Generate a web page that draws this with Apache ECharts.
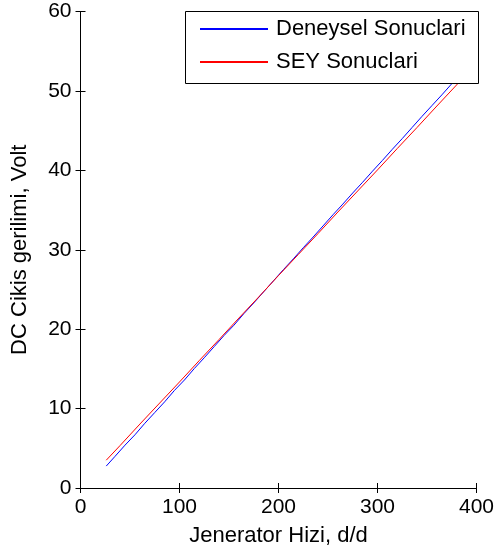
<!DOCTYPE html>
<html>
<head>
<meta charset="utf-8">
<script src="https://cdn.jsdelivr.net/npm/echarts@6/dist/echarts.min.js"></script>
<style>
html,body{margin:0;padding:0;background:#fff;}
#chart{width:497px;height:553px;}
</style>
</head>
<body>
<div id="chart"></div>
<script>
var xTicks = [0, 100, 200, 300, 400];
var yTicks = [0, 10, 20, 30, 40, 50, 60];
var seriesNames = ['Deneysel Sonuclari', 'SEY Sonuclari'];

var deneyselX = [26, 35, 45, 55, 65, 75, 85, 95, 105, 115, 125, 135, 145, 155, 165, 175, 185, 195, 205, 215, 225, 235, 245, 255, 265, 275, 285, 295, 305, 315, 325, 335, 345, 355, 365, 375];
var deneyselY = [2.76, 4.0, 5.4, 6.7, 8.15, 9.5, 10.85, 12.3, 13.6, 15.05, 16.4, 17.8, 19.2, 20.5, 21.95, 23.3, 24.7, 26.1, 27.5, 28.85, 30.25, 31.6, 33.0, 34.4, 35.75, 37.15, 38.5, 39.9, 41.25, 42.65, 44.0, 45.4, 46.8, 48.15, 49.5, 50.9];

var seyX = [26, 40, 60, 80, 100, 120, 140, 160, 180, 200, 220, 240, 260, 280, 300, 320, 340, 360, 381];
var seyY = [3.5, 5.35, 8.05, 10.7, 13.35, 16.05, 18.7, 21.4, 24.05, 26.75, 29.4, 32.05, 34.75, 37.4, 40.05, 42.75, 45.4, 48.1, 50.9];

function pairs(xs, ys) { return xs.map(function (x, i) { return [x, ys[i]]; }); }

var FONT = 'Liberation Sans, Arial, sans-serif';
var chart = echarts.init(document.getElementById('chart'), null, {renderer: 'canvas'});
var axisLine = {show: true, lineStyle: {color: '#000', width: 1}};
var tick = {show: true, inside: true, length: 5, lineStyle: {color: '#000', width: 1}};

chart.setOption({
  animation: false,
  backgroundColor: '#fff',
  grid: {left: 80.5, right: 18.5, top: 11.5, bottom: 65, containLabel: false},
  xAxis: [{
    type: 'value', min: xTicks[0], max: xTicks[xTicks.length - 1], interval: 100,
    position: 'bottom',
    axisLine: axisLine, axisTick: tick, splitLine: {show: false},
    axisLabel: {fontSize: 21, color: '#000', fontFamily: FONT, margin: 9},
    name: 'Jenerator Hizi, d/d', nameLocation: 'middle', nameGap: 37,
    nameTextStyle: {fontSize: 22, color: '#000', fontFamily: FONT}
  }, {
    type: 'value', min: xTicks[0], max: xTicks[xTicks.length - 1], interval: 100,
    position: 'top',
    axisLine: axisLine, axisTick: tick, splitLine: {show: false},
    axisLabel: {show: false}
  }],
  yAxis: [{
    type: 'value', min: yTicks[0], max: yTicks[yTicks.length - 1], interval: 10,
    position: 'left',
    axisLine: axisLine, axisTick: tick, splitLine: {show: false},
    axisLabel: {fontSize: 21, color: '#000', fontFamily: FONT, margin: 9},
    name: 'DC Cikis gerilimi, Volt', nameLocation: 'middle', nameGap: 50,
    nameTextStyle: {fontSize: 22, color: '#000', fontFamily: FONT}
  }, {
    type: 'value', min: yTicks[0], max: yTicks[yTicks.length - 1], interval: 10,
    position: 'right',
    axisLine: axisLine, axisTick: tick, splitLine: {show: false},
    axisLabel: {show: false}
  }],
  legend: {
    data: seriesNames,
    orient: 'vertical',
    left: 199, top: 18, padding: 0,
    itemWidth: 68, itemHeight: 22, itemGap: 11,
    itemStyle: {opacity: 0},
    z: 10,
    textStyle: {fontSize: 22, color: '#000', fontFamily: FONT, padding: [0, 0, 0, 3]}
  },
  graphic: [{
    type: 'rect', z: 3,
    shape: {x: 185.5, y: 11.5, width: 293, height: 72},
    style: {fill: '#fff', stroke: '#000', lineWidth: 1}
  }],
  series: [{
    name: seriesNames[0], type: 'line', data: pairs(deneyselX, deneyselY),
    showSymbol: false, symbol: 'none',
    lineStyle: {color: '#0000ff', width: 1}, itemStyle: {color: '#0000ff'}, z: 2
  }, {
    name: seriesNames[1], type: 'line', data: pairs(seyX, seyY),
    showSymbol: false, symbol: 'none',
    lineStyle: {color: '#ff0000', width: 1}, itemStyle: {color: '#ff0000'}, z: 2
  }]
});
</script>
</body>
</html>
